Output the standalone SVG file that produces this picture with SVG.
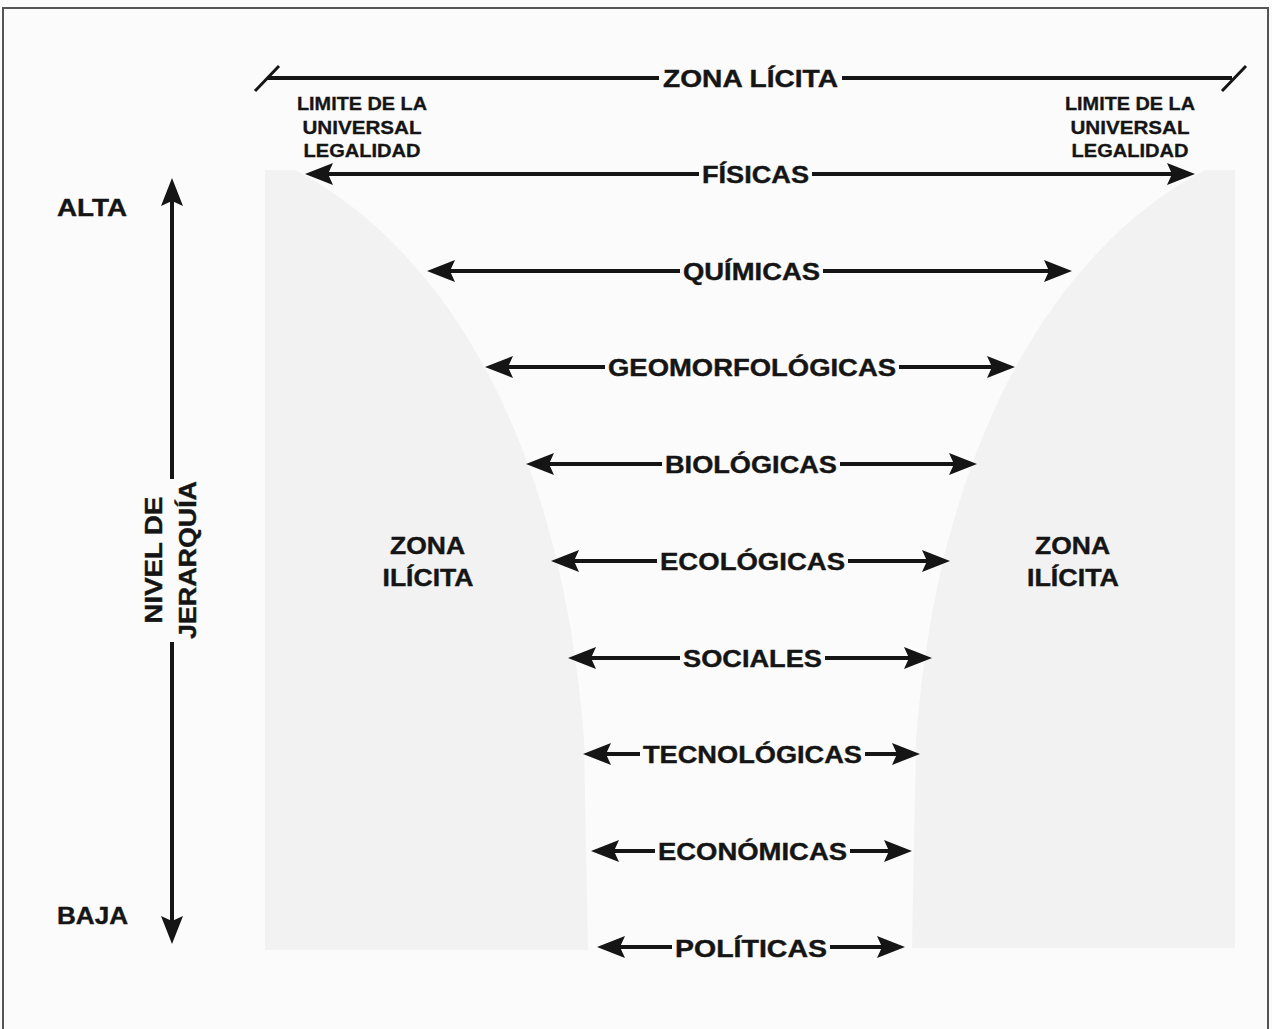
<svg xmlns="http://www.w3.org/2000/svg" width="1272" height="1029" viewBox="0 0 1272 1029">
  <style>
    .lbl { font-family: "Liberation Sans", Arial, sans-serif; font-weight: bold; font-size: 24px; fill: #151515; stroke: #151515; stroke-width: 0.4; text-anchor: middle; }
    .sm { font-family: "Liberation Sans", Arial, sans-serif; font-weight: bold; font-size: 18px; fill: #151515; stroke: #151515; stroke-width: 0.3; text-anchor: middle; }
    .ln { stroke: #151515; stroke-width: 4; fill: none; }
    .tick { stroke: #151515; stroke-width: 3; fill: none; }
    .arr { stroke: #151515; stroke-width: 4; fill: none; marker-start: url(#ah); marker-end: url(#ah); }
    .shade { fill: #f2f2f2; }
  </style>
  <defs>
    <marker id="ah" viewBox="0 0 28 22" refX="18" refY="11" markerWidth="28" markerHeight="22" markerUnits="userSpaceOnUse" orient="auto-start-reverse">
      <path d="M0,0 L28,11 L0,22 L5,11 Z" fill="#151515"/>
    </marker>
  </defs>

  <rect x="0" y="0" width="1272" height="1029" fill="#fbfbfb"/>
  <path d="M3,1029 L3,8 L1268,8 L1268,1029" fill="none" stroke="#555" stroke-width="2"/>

  <g id="shading">
    <path class="shade" d="M265,170 L295,170 C430,240 560,420 584,740 L588,950 L265,950 Z"/>
    <path class="shade" d="M1235,170 L1205,170 C1070,240 940,420 916,740 L912,948 L1235,948 Z"/>
  </g>

  <g id="connectors">
    <path id="c-zona-licita" class="ln" d="M267,78 L659,78 M842,78 L1232,78"/>
    <path id="c-zona-ticks" class="tick" d="M255,91 L279,66 M1222,91 L1246,66"/>
    <path id="c-fisicas" class="arr" d="M315,174 L699,174 M812,174 L1185,174"/>
    <path id="c-quimicas" class="arr" d="M437,271 L680,271 M823,271 L1062,271"/>
    <path id="c-geomorf" class="arr" d="M495,367 L605,367 M899,367 L1005,367"/>
    <path id="c-biologicas" class="arr" d="M536,464 L662,464 M840,464 L967,464"/>
    <path id="c-ecologicas" class="arr" d="M561,561 L657,561 M848,561 L940,561"/>
    <path id="c-sociales" class="arr" d="M578,658 L680,658 M825,658 L922,658"/>
    <path id="c-tecnologicas" class="arr" d="M593,754 L640,754 M865,754 L910,754"/>
    <path id="c-economicas" class="arr" d="M601,851 L655,851 M850,851 L902,851"/>
    <path id="c-politicas" class="arr" d="M607,947 L672,947 M830,947 L895,947"/>
    <path id="c-jerarquia" class="arr" d="M172,188 L172,479 M172,642 L172,934"/>
  </g>

  <g id="n-zona-licita"><text class="lbl" x="750.5" y="86.6" textLength="175" lengthAdjust="spacingAndGlyphs">ZONA LÍCITA</text></g>
  <g id="n-limite-izq">
    <text class="sm" x="362" y="109.5" textLength="130" lengthAdjust="spacingAndGlyphs">LIMITE DE LA</text>
    <text class="sm" x="362" y="133.5" textLength="119" lengthAdjust="spacingAndGlyphs">UNIVERSAL</text>
    <text class="sm" x="362" y="156.5" textLength="117" lengthAdjust="spacingAndGlyphs">LEGALIDAD</text>
  </g>
  <g id="n-limite-der">
    <text class="sm" x="1130" y="109.5" textLength="130" lengthAdjust="spacingAndGlyphs">LIMITE DE LA</text>
    <text class="sm" x="1130" y="133.5" textLength="119" lengthAdjust="spacingAndGlyphs">UNIVERSAL</text>
    <text class="sm" x="1130" y="156.5" textLength="117" lengthAdjust="spacingAndGlyphs">LEGALIDAD</text>
  </g>
  <g id="n-fisicas"><text class="lbl" x="755.5" y="182.6" textLength="107" lengthAdjust="spacingAndGlyphs">FÍSICAS</text></g>
  <g id="n-quimicas"><text class="lbl" x="751.5" y="279.6" textLength="137" lengthAdjust="spacingAndGlyphs">QUÍMICAS</text></g>
  <g id="n-geomorfologicas"><text class="lbl" x="752" y="375.6" textLength="288" lengthAdjust="spacingAndGlyphs">GEOMORFOLÓGICAS</text></g>
  <g id="n-biologicas"><text class="lbl" x="751" y="472.6" textLength="172" lengthAdjust="spacingAndGlyphs">BIOLÓGICAS</text></g>
  <g id="n-ecologicas"><text class="lbl" x="752.5" y="569.6" textLength="185" lengthAdjust="spacingAndGlyphs">ECOLÓGICAS</text></g>
  <g id="n-sociales"><text class="lbl" x="752.5" y="666.6" textLength="139" lengthAdjust="spacingAndGlyphs">SOCIALES</text></g>
  <g id="n-tecnologicas"><text class="lbl" x="752.5" y="762.6" textLength="219" lengthAdjust="spacingAndGlyphs">TECNOLÓGICAS</text></g>
  <g id="n-economicas"><text class="lbl" x="752.5" y="859.6" textLength="189" lengthAdjust="spacingAndGlyphs">ECONÓMICAS</text></g>
  <g id="n-politicas"><text class="lbl" x="751" y="956.6" textLength="152" lengthAdjust="spacingAndGlyphs">POLÍTICAS</text></g>

  <g id="n-zona-ilicita-izq">
    <text class="lbl" x="427.5" y="553.8" textLength="75" lengthAdjust="spacingAndGlyphs">ZONA</text>
    <text class="lbl" x="428" y="585.8" textLength="91" lengthAdjust="spacingAndGlyphs">ILÍCITA</text>
  </g>
  <g id="n-zona-ilicita-der">
    <text class="lbl" x="1072.5" y="553.8" textLength="75" lengthAdjust="spacingAndGlyphs">ZONA</text>
    <text class="lbl" x="1073" y="585.8" textLength="92" lengthAdjust="spacingAndGlyphs">ILÍCITA</text>
  </g>

  <g id="n-alta"><text class="lbl" x="92" y="215.6" textLength="70" lengthAdjust="spacingAndGlyphs">ALTA</text></g>
  <g id="n-baja"><text class="lbl" x="92.5" y="923.6" textLength="71" lengthAdjust="spacingAndGlyphs">BAJA</text></g>
  <g id="n-nivel-jerarquia">
    <text class="lbl" transform="translate(153,560) rotate(-90)" x="0" y="8.6" textLength="127" lengthAdjust="spacingAndGlyphs">NIVEL DE</text>
    <text class="lbl" transform="translate(187,560) rotate(-90)" x="0" y="8.6" textLength="158" lengthAdjust="spacingAndGlyphs">JERARQUÍA</text>
  </g>
</svg>
